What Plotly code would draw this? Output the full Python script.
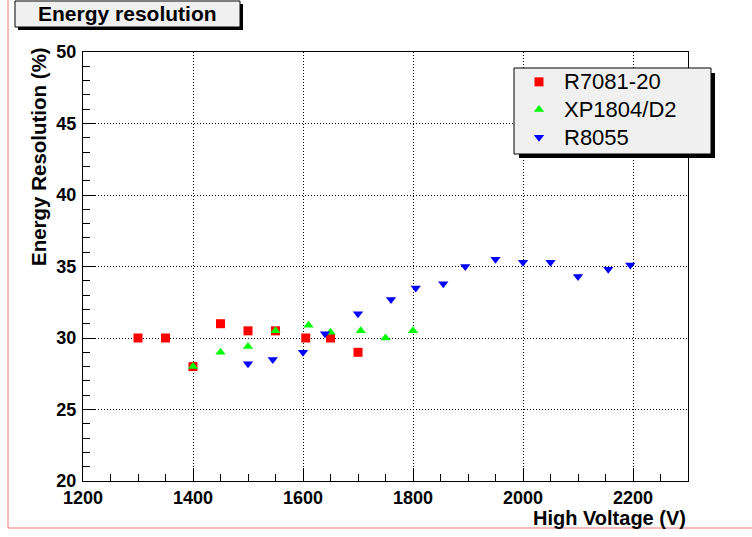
import plotly.graph_objects as go

# ---- data ----
hv_r7081 = [1300, 1350, 1400, 1450, 1500, 1550, 1605, 1650, 1700]
res_r7081 = [30.0, 30.0, 28.0, 31.0, 30.5, 30.5, 30.0, 30.0, 29.0]

hv_xp1804 = [1400, 1450, 1500, 1550, 1610, 1650, 1705, 1750, 1800]
res_xp1804 = [28.0, 29.0, 29.4, 30.5, 30.9, 30.4, 30.5, 30.0, 30.5]

hv_r8055 = [1500, 1545, 1600, 1640, 1700, 1760, 1805, 1855, 1895, 1950,
            2000, 2050, 2100, 2155, 2195]
res_r8055 = [28.2, 28.5, 29.0, 30.3, 31.7, 32.7, 33.5, 33.8, 35.0, 35.5,
             35.3, 35.3, 34.3, 34.8, 35.1]

series_names = ["R7081-20", "XP1804/D2", "R8055"]
x_tickvals = [1200, 1400, 1600, 1800, 2000, 2200]
y_tickvals = [20, 25, 30, 35, 40, 45, 50]

# ---- layout geometry (page pixels) ----
W, H = 752, 537
L, R, T, B = 83, 64, 52, 56
PW, PH = W - L - R, H - T - B


def px(x):
    return (x - L) / PW


def py(y):
    return (H - B - y) / PH


FONT = "Liberation Sans, Arial, Helvetica, sans-serif"


def legend_name(s):
    return '<span style="font-size:22px">%s</span>' % s


fig = go.Figure()
fig.add_trace(go.Scatter(x=hv_r7081, y=res_r7081, mode="markers",
                         name=legend_name(series_names[0]),
                         marker=dict(symbol="square", size=9, color="#ff0000",
                                     line=dict(width=0))))
fig.add_trace(go.Scatter(x=hv_xp1804, y=res_xp1804, mode="markers",
                         name=legend_name(series_names[1]),
                         marker=dict(symbol="triangle-up", size=9, color="#00ff00",
                                     line=dict(width=0))))
fig.add_trace(go.Scatter(x=hv_r8055, y=res_r8055, mode="markers",
                         name=legend_name(series_names[2]),
                         marker=dict(symbol="triangle-down", size=9, color="#0000ff",
                                     line=dict(width=0))))

axis_common = dict(
    showline=True, linecolor="black", linewidth=1, mirror=True,
    showgrid=True, gridcolor="black", gridwidth=1, griddash="1px,2px",
    zeroline=False, ticks="inside", ticklen=13, tickcolor="black", tickwidth=1,
    tickfont=dict(family=FONT, size=18, color="black", weight="bold"),
)

fig.update_xaxes(range=[1200, 2300], tickvals=x_tickvals,
                 minor=dict(dtick=50, ticks="inside", ticklen=7, tickcolor="black",
                            showgrid=False),
                 **axis_common)
fig.update_yaxes(range=[20, 50], tickvals=y_tickvals, ticklabelstandoff=2,
                 minor=dict(dtick=1, ticks="inside", ticklen=7, tickcolor="black",
                            showgrid=False),
                 **axis_common)

shapes = [
    # canvas frame lines
    dict(type="line", xref="paper", yref="paper", x0=px(8), y0=py(0), x1=px(8), y1=py(528),
         line=dict(color="#e87878", width=1)),
    dict(type="line", xref="paper", yref="paper", x0=px(8), y0=py(528), x1=px(752), y1=py(528),
         line=dict(color="#e87878", width=1)),
    # title pave shadow + box
    dict(type="rect", xref="paper", yref="paper", x0=px(18), y0=py(4), x1=px(243), y1=py(30),
         fillcolor="black", line=dict(width=0), layer="above"),
    dict(type="rect", xref="paper", yref="paper", x0=px(15), y0=py(1), x1=px(240), y1=py(27),
         fillcolor="#f0f0f0", line=dict(color="black", width=1), layer="above"),
    # legend shadow + box
    dict(type="rect", xref="paper", yref="paper", x0=px(519), y0=py(73), x1=px(715), y1=py(158),
         fillcolor="black", line=dict(width=0), layer="above"),
    dict(type="rect", xref="paper", yref="paper", x0=px(514), y0=py(68), x1=px(711), y1=py(154),
         fillcolor="#f0f0f0", line=dict(color="black", width=1), layer="above"),
]

annotations = [
    dict(text="<b>Energy resolution</b>", xref="paper", yref="paper",
         x=px(127), y=py(14), xanchor="center", yanchor="middle", showarrow=False,
         font=dict(family=FONT, size=21, color="black")),
    dict(text="<b>Energy Resolution (%)</b>", xref="paper", yref="paper",
         x=px(38), y=py(157), xanchor="center", yanchor="middle", textangle=-90,
         showarrow=False, font=dict(family=FONT, size=20.5, color="black")),
    dict(text="<b>High Voltage (V)</b>", xref="paper", yref="paper",
         x=px(688), y=py(518), xanchor="right", yanchor="middle",
         showarrow=False, font=dict(family=FONT, size=20, color="black")),
]

fig.update_layout(
    width=W, height=H, autosize=False,
    margin=dict(l=L, r=R, t=T, b=B, pad=0),
    paper_bgcolor="white", plot_bgcolor="white",
    shapes=shapes, annotations=annotations,
    showlegend=True,
    legend=dict(x=px(514), y=py(63), xanchor="left", yanchor="top",
                bgcolor="rgba(0,0,0,0)", borderwidth=0, itemwidth=40,
                font=dict(family=FONT, size=19, color="black"),
                tracegroupgap=0),
)

fig.write_html("out.html",
               config={"displayModeBar": False},
               post_script="document.body.style.margin='0';document.body.style.padding='0';")
